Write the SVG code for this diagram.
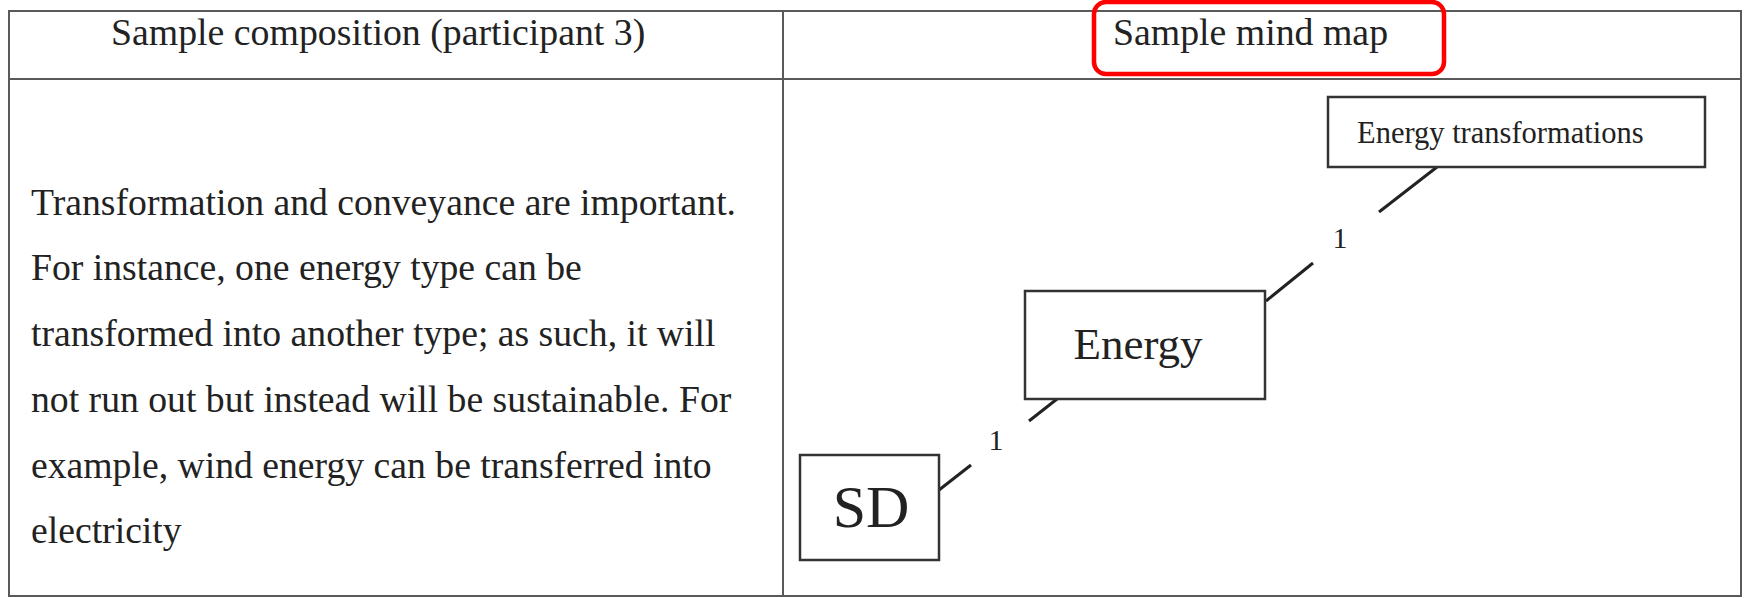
<svg xmlns="http://www.w3.org/2000/svg" width="1746" height="598" viewBox="0 0 1746 598">
  <style>
    .grid { stroke: #5a5a5a; stroke-width: 2; fill: none; }
    .txt { font-family: "Liberation Serif", "Times New Roman", serif; fill: #222; }
    .node { fill: #fff; stroke: #333; stroke-width: 2.5; }
    .edge { stroke: #222; stroke-width: 3; fill: none; }
  </style>
  <rect width="1746" height="598" fill="#fff"/>

  <!-- table frame -->
  <g id="table">
    <rect class="grid" x="9" y="11" width="1732" height="585"/>
    <line class="grid" x1="9" y1="79" x2="1741" y2="79"/>
    <line class="grid" x1="783" y1="11" x2="783" y2="596"/>
  </g>

  <!-- header cells -->
  <g id="header-left">
    <text class="txt" x="111" y="45" font-size="37.8">Sample composition (participant 3)</text>
  </g>
  <g id="header-right">
    <text class="txt" x="1113" y="45" font-size="37.8">Sample mind map</text>
    <rect x="1094" y="2" width="350" height="72" rx="12" ry="12" fill="none" stroke="#f00" stroke-width="4.5"/>
  </g>

  <!-- composition text -->
  <g id="composition" class="txt" font-size="37.7">
    <text x="31" y="215">Transformation and conveyance are important.</text>
    <text x="31" y="280">For instance, one energy type can be</text>
    <text x="31" y="346">transformed into another type; as such, it will</text>
    <text x="31" y="412">not run out but instead will be sustainable. For</text>
    <text x="31" y="478">example, wind energy can be transferred into</text>
    <text x="31" y="543">electricity</text>
  </g>

  <!-- mind map connectors -->
  <g id="connectors">
    <line class="edge" x1="939" y1="490" x2="971" y2="465"/>
    <line class="edge" x1="1029" y1="421" x2="1057" y2="399"/>
    <text class="txt" x="996" y="450" font-size="30" text-anchor="middle">1</text>
    <line class="edge" x1="1266" y1="301" x2="1313" y2="263"/>
    <line class="edge" x1="1379" y1="212" x2="1437" y2="167"/>
    <text class="txt" x="1340" y="248" font-size="30" text-anchor="middle">1</text>
  </g>

  <!-- mind map nodes -->
  <g id="node-sd">
    <rect class="node" x="800" y="455" width="139" height="105"/>
    <text class="txt" x="871" y="527" font-size="60" text-anchor="middle">SD</text>
  </g>
  <g id="node-energy">
    <rect class="node" x="1025" y="291" width="240" height="108"/>
    <text class="txt" x="1138" y="359" font-size="45" text-anchor="middle">Energy</text>
  </g>
  <g id="node-energy-transformations">
    <rect class="node" x="1328" y="97" width="377" height="70"/>
    <text class="txt" x="1357" y="143" font-size="30.5">Energy transformations</text>
  </g>
</svg>
